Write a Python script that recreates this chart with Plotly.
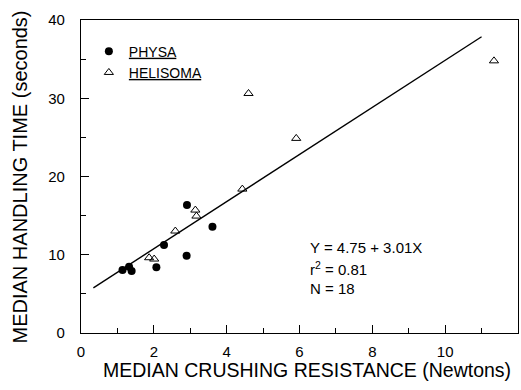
import numpy as np
import plotly.graph_objects as go

# Data
physa_x = [1.14, 1.32, 1.39, 2.07, 2.28, 2.91, 2.90, 3.61]
physa_y = [8.05, 8.47, 7.92, 8.39, 11.24, 16.35, 9.87, 13.58]
helisoma_x = [1.87, 2.01, 2.59, 3.14, 3.17, 4.43, 4.60, 5.91, 11.34]
helisoma_y = [9.62, 9.45, 13.03, 15.71, 14.94, 18.39, 30.61, 24.87, 34.78]
fit_intercept = 4.75
fit_slope = 3.01
fit_x_range = [0.34, 11.0]
x_ticks = [0, 2, 4, 6, 8, 10]
y_ticks = [0, 10, 20, 30, 40]

FONT = "Liberation Sans, Arial, sans-serif"

fit_x = np.array(fit_x_range)
fit_y = fit_intercept + fit_slope * fit_x

fig = go.Figure()
fig.add_trace(go.Scatter(x=fit_x, y=fit_y, mode="lines",
                         line=dict(color="black", width=1.4), showlegend=False))
fig.add_trace(go.Scatter(x=physa_x, y=physa_y, mode="markers", name="<u>PHYSA</u>",
                         marker=dict(symbol="circle", size=8, color="black")))
fig.add_trace(go.Scatter(x=helisoma_x, y=helisoma_y, mode="markers", name="<u>HELISOMA</u>",
                         marker=dict(symbol="triangle-up-open", size=8, color="black",
                                     line=dict(width=1, color="black"))))

axis_common = dict(showgrid=False, zeroline=False, showline=True, linecolor="black",
                   linewidth=1.3, mirror=True, ticks="inside", ticklen=8, tickwidth=1.2,
                   tickcolor="black", tickfont=dict(family=FONT, size=15, color="black"))

fig.update_xaxes(range=[0, 12], tickvals=x_ticks, ticktext=[str(v) for v in x_ticks],
                 minor=dict(dtick=1, ticks="inside", ticklen=5, tickwidth=1, tickcolor="black"),
                 ticklabelstandoff=5, **axis_common)
fig.update_yaxes(range=[0, 40], tickvals=y_ticks, ticktext=[str(v) for v in y_ticks],
                 minor=dict(dtick=5, ticks="inside", ticklen=5, tickwidth=1, tickcolor="black"),
                 ticklabelstandoff=12, **axis_common)

annots = [
    dict(text="MEDIAN CRUSHING RESISTANCE (Newtons)", x=0.517, y=-0.118,
         font=dict(family=FONT, size=19.5, color="black")),
    dict(text="MEDIAN HANDLING TIME (seconds)", x=-0.1396, y=0.50, textangle=-90,
         font=dict(family=FONT, size=20, color="black")),
    dict(text="Y = 4.75 + 3.01X", x=0.519, y=0.2716, xanchor="left",
         font=dict(family=FONT, size=15, color="black")),
    dict(text="r<sup>2</sup> = 0.81", x=0.519, y=0.2045, xanchor="left",
         font=dict(family=FONT, size=15, color="black")),
    dict(text="N = 18", x=0.519, y=0.1406, xanchor="left",
         font=dict(family=FONT, size=15, color="black")),
]
for a in annots:
    a.setdefault("xanchor", "center")
    fig.add_annotation(xref="paper", yref="paper", showarrow=False, yanchor="middle", **a)

fig.update_layout(
    width=521, height=390,
    margin=dict(l=81, r=3, t=20, b=57),
    paper_bgcolor="white", plot_bgcolor="white",
    showlegend=True,
    legend=dict(x=0.018, y=0.95, xanchor="left", yanchor="top",
                bgcolor="rgba(0,0,0,0)", font=dict(family=FONT, size=14, color="black"),
                tracegroupgap=0, itemwidth=30),
)

fig.write_html("out.html")
